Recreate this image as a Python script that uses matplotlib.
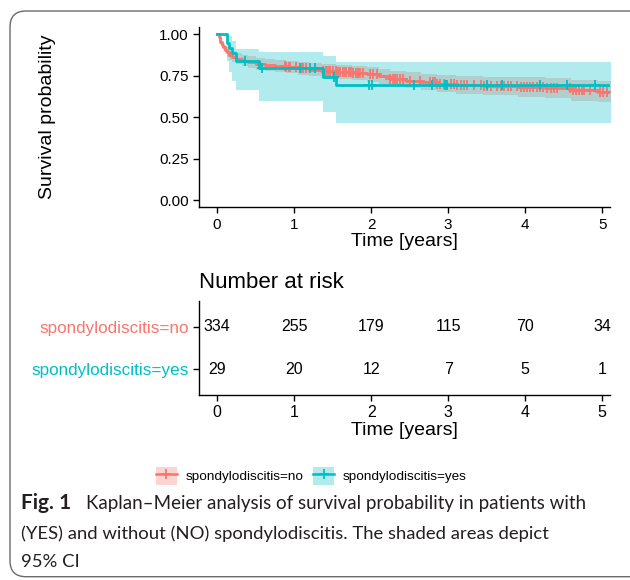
import numpy as np
import matplotlib
matplotlib.use("Agg")
import matplotlib.pyplot as plt
from matplotlib.patches import FancyBboxPatch, Patch
from matplotlib.lines import Line2D

plt.rcParams['font.family'] = ['Liberation Sans', 'DejaVu Sans']

RED = '#F8766D'
CYAN = '#00BFC4'

# number at risk table
years = [0, 1, 2, 3, 4, 5]
risk_no = [334, 255, 179, 115, 70, 34]
risk_yes = [29, 20, 12, 7, 5, 1]

# spondylodiscitis = no  (event times, survival, 95% CI)
no_t = [0, 0.02, 0.04, 0.06, 0.08, 0.10, 0.13, 0.16, 0.20, 0.25, 0.32, 0.40, 0.50,
        0.62, 0.75, 0.90, 1.05, 1.20, 1.35, 1.55, 1.75, 1.95, 2.10, 2.25, 2.45,
        2.65, 2.85, 3.10, 3.45, 3.90, 4.25, 4.60, 4.95, 5.30]
no_s = [1.0, 0.98, 0.955, 0.935, 0.92, 0.905, 0.89, 0.875, 0.862, 0.85, 0.84, 0.83, 0.82,
        0.813, 0.806, 0.80, 0.793, 0.786, 0.778, 0.772, 0.765, 0.757, 0.745, 0.73, 0.72,
        0.71, 0.70, 0.692, 0.686, 0.68, 0.674, 0.661, 0.653, 0.653]
no_lo = [1.0, 0.966, 0.936, 0.913, 0.896, 0.879, 0.862, 0.845, 0.830, 0.817, 0.806, 0.795, 0.784,
         0.777, 0.769, 0.763, 0.755, 0.747, 0.738, 0.731, 0.723, 0.714, 0.701, 0.685, 0.673,
         0.661, 0.650, 0.640, 0.632, 0.624, 0.616, 0.600, 0.590, 0.590]
no_hi = [1.0, 0.994, 0.975, 0.958, 0.945, 0.932, 0.919, 0.906, 0.895, 0.884, 0.875, 0.866, 0.857,
         0.850, 0.844, 0.839, 0.833, 0.827, 0.820, 0.815, 0.809, 0.803, 0.792, 0.778, 0.770,
         0.762, 0.754, 0.748, 0.744, 0.740, 0.736, 0.726, 0.720, 0.720]
no_cens = [0.88, 0.90, 0.93, 0.95, 1.03, 1.10, 1.12, 1.15, 1.16, 1.38, 1.41, 1.44, 1.47, 1.51,
           1.54, 1.57, 1.60, 1.63, 1.66, 1.68, 1.71, 1.74, 1.77, 1.80, 1.83, 1.86, 1.90, 1.99,
           2.03, 2.07, 2.25, 2.28, 2.31, 2.33, 2.37, 2.42, 2.51, 2.64, 2.77, 2.80, 2.83, 2.85,
           2.90, 2.94, 3.03, 3.07, 3.11, 3.16, 3.20, 3.24, 3.33, 3.42, 3.46, 3.50, 3.55, 3.63,
           3.68, 3.72, 3.77, 3.81, 3.89, 3.94, 3.98, 4.02, 4.06, 4.10, 4.15, 4.19, 4.23, 4.28,
           4.33, 4.37, 4.41, 4.58, 4.62, 4.66, 4.70, 4.74, 4.76, 4.84, 4.97, 5.01, 5.06]

# spondylodiscitis = yes
yes_t = [0, 0.125, 0.16, 0.20, 0.24, 0.54, 1.38, 1.55, 5.30]
yes_s = [1.0, 0.945, 0.915, 0.885, 0.835, 0.795, 0.74, 0.695, 0.695]
yes_lo = [1.0, 0.84, 0.77, 0.72, 0.665, 0.60, 0.53, 0.465, 0.465]
yes_hi = [1.0, 1.0, 0.99, 0.96, 0.91, 0.89, 0.87, 0.83, 0.83]
yes_cens = [0.36, 0.58, 1.08, 1.21, 1.27, 1.52, 1.97, 2.01, 2.55, 2.79, 2.96, 2.98,
            3.50, 3.70, 4.19, 4.54, 4.91]

W, H = 630, 580
fig = plt.figure(figsize=(W / 100, H / 100), dpi=100)

# journal frame with rounded corners (right side runs off the image)
frame = FancyBboxPatch((0.10, 0.033), 7.0, 5.657, boxstyle="round,pad=0,rounding_size=0.16",
                       transform=fig.dpi_scale_trans, facecolor='none', edgecolor='#6b6b6b',
                       linewidth=1.0, zorder=0)
fig.patches.append(frame)

xlim = (-0.234, 5.10)


def px_axes(x0, y0, x1, y1):
    return fig.add_axes([x0 / W, 1 - y1 / H, (x1 - x0) / W, (y1 - y0) / H])


def style(ax):
    for s in ['top', 'right']:
        ax.spines[s].set_visible(False)
    for s in ['left', 'bottom']:
        ax.spines[s].set_linewidth(1.0)
    ax.tick_params(length=4, width=1.0, colors='black')


def cens_y(t, s, c):
    idx = np.searchsorted(t, c, side='right') - 1
    return np.asarray(s)[idx]


# ---- survival curves
ax = px_axes(199, 26.7, 610, 207.3)
style(ax)
groups = [(no_t, no_s, no_lo, no_hi, no_cens, RED),
          (yes_t, yes_s, yes_lo, yes_hi, yes_cens, CYAN)]
for t, s, lo, hi, cens, col in groups:
    ax.fill_between(t, lo, hi, step='post', color=col, alpha=0.3, linewidth=0)
for t, s, lo, hi, cens, col in groups:
    ax.step(t, s, where='post', color=col, linewidth=2.0)
    ax.plot(cens, cens_y(t, s, cens), linestyle='none', marker='+', color=col,
            markersize=7, markeredgewidth=1.3)
ax.set_xlim(*xlim)
ax.set_ylim(-0.042, 1.044)
ax.set_xticks(years)
ax.set_yticks([0, 0.25, 0.5, 0.75, 1.0])
ax.set_yticklabels(['0.00', '0.25', '0.50', '0.75', '1.00'])
ax.tick_params(labelsize=11)
ax.set_xlabel('Time [years]', fontsize=14, labelpad=1)
ax.set_ylabel('Survival probability', fontsize=14, va='center')
ax.yaxis.set_label_coords((48 - 199) / 411, 0.5)

# ---- risk table
ax2 = px_axes(199, 301, 610, 395)
style(ax2)
for x, a, b in zip(years, risk_no, risk_yes):
    ax2.text(x, 2, str(a), ha='center', va='center', fontsize=11.5)
    ax2.text(x, 1, str(b), ha='center', va='center', fontsize=11.5)
ax2.set_xlim(*xlim)
ax2.set_ylim(0.4, 2.6)
ax2.set_xticks(years)
ax2.set_yticks([2, 1])
ax2.set_yticklabels(['spondylodiscitis=no', 'spondylodiscitis=yes'], fontsize=12.3)
for lab, col in zip(ax2.get_yticklabels(), [RED, CYAN]):
    lab.set_color(col)
ax2.tick_params(axis='x', labelsize=11.5)
ax2.set_xlabel('Time [years]', fontsize=14, labelpad=1)
fig.text(199 / W, 1 - 283 / H, 'Number at risk', fontsize=16, ha='left', va='center')

# ---- legend
handles = [(Patch(facecolor=RED, alpha=0.3, linewidth=0),
            Line2D([], [], color=RED, lw=1.8, marker='+', ms=7, mew=1.3)),
           (Patch(facecolor=CYAN, alpha=0.3, linewidth=0),
            Line2D([], [], color=CYAN, lw=1.8, marker='+', ms=7, mew=1.3))]
fig.legend(handles, ['spondylodiscitis=no', 'spondylodiscitis=yes'], loc='center',
           bbox_to_anchor=(311 / W, 1 - 476 / H), ncol=2, frameon=False, fontsize=9.7,
           handlelength=1.6, handleheight=1.6, handletextpad=0.6, columnspacing=0.7)

# ---- caption
cap = dict(color='#231f20', family=['Lato', 'DejaVu Sans'], va='baseline')
fig.text(21 / W, 1 - 509 / H, 'Fig. 1', fontsize=15, fontweight='bold', **cap)
fig.text(86 / W, 1 - 509 / H, 'Kaplan\u2013Meier analysis of survival probability in patients with',
         fontsize=13.5, **cap)
fig.text(21 / W, 1 - 539 / H, '(YES) and without (NO) spondylodiscitis. The shaded areas depict',
         fontsize=13.3, **cap)
fig.text(21 / W, 1 - 567 / H, '95% CI', fontsize=13.3, **cap)

fig.savefig('out.png', dpi=100)
